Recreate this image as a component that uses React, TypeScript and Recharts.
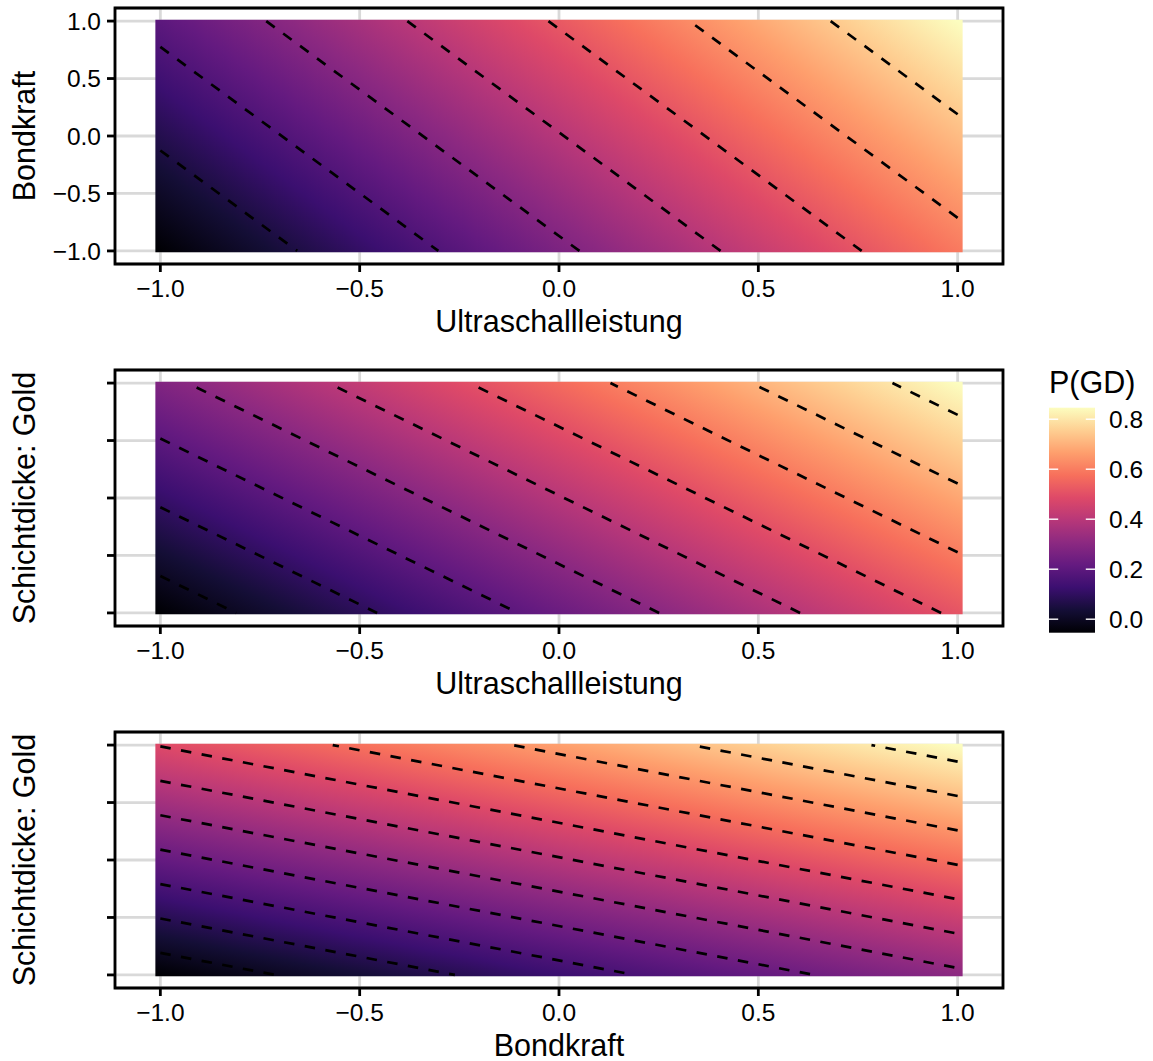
import { ComposedChart, XAxis, YAxis, CartesianGrid, ReferenceArea, ReferenceLine } from 'recharts';

const FONT = '"Liberation Sans", Arial, Helvetica, sans-serif';

const axisTicks = [-1, -0.5, 0, 0.5, 1];
const legendTicks = [0, 0.2, 0.4, 0.6, 0.8];

// predicted P(GD) at the grid corners: [x=-1,y=-1], [x=1,y=-1], [x=-1,y=1], [x=1,y=1]
const cornersUltraBond = [0.003, 0.568, 0.225, 0.79];
const cornersUltraGold = [-0.054, 0.512, 0.281, 0.846];
const cornersBondGold = [0.118, 0.34, 0.452, 0.674];

// contour breaks per panel
const levelsUltraBond = [0.1, 0.2, 0.3, 0.4, 0.5, 0.6, 0.7];
const levelsUltraGold = [0, 0.1, 0.2, 0.3, 0.4, 0.5, 0.6, 0.7, 0.8];
const levelsBondGold = [0.15, 0.2, 0.25, 0.3, 0.35, 0.4, 0.45, 0.5, 0.55, 0.6, 0.65];

const magma = ['#000004', '#140E36', '#3B0F70', '#641A80', '#8C2981', '#B73779', '#DE4968', '#F7705C', '#FE9F6D', '#FECF92', '#FCFDBF'];

const TILE = 1.0125; // raster extent (half a 0.025 tile past the grid)
const DOMAIN = 1.11375; // 5% expansion on each side

const fmt = (v: number) => (v < 0 ? '\u2212' : '') + Math.abs(v).toFixed(1);
const blank = () => '';

function plane(c: number[]) {
  const [bl, br, tl, tr] = c;
  return { a: (br - bl + tr - tl) / 4, b: (tl - bl + tr - br) / 4, m: (bl + br + tl + tr) / 4 };
}

// where a contour level crosses the border of the [-1, 1] square
function contour(c: number[], level: number) {
  const { a, b, m } = plane(c);
  const pts: { x: number; y: number }[] = [];
  const eps = 1e-9;
  const add = (x: number, y: number) => {
    if (x < -1 - eps || x > 1 + eps || y < -1 - eps || y > 1 + eps) return;
    if (pts.some((p) => Math.abs(p.x - x) < 1e-6 && Math.abs(p.y - y) < 1e-6)) return;
    pts.push({ x, y });
  };
  if (b !== 0) {
    add(-1, (level - m + a) / b);
    add(1, (level - m - a) / b);
  }
  if (a !== 0) {
    add((level - m + b) / a, -1);
    add((level - m - b) / a, 1);
  }
  return pts.length >= 2 ? [pts[0], pts[1]] : null;
}

// gradient vector in bounding-box units so isolines follow the plane
function gradientFor(c: number[]) {
  const { a, b, m } = plane(c);
  const p0 = m - a * TILE + b * TILE;
  const A = 2 * TILE * a;
  const B = -2 * TILE * b;
  const n = A * A + B * B;
  const lo = Math.min(...c);
  const hi = Math.max(...c);
  return {
    x1: (A * (lo - p0)) / n,
    y1: (B * (lo - p0)) / n,
    x2: (A * (hi - p0)) / n,
    y2: (B * (hi - p0)) / n,
  };
}

type PanelProps = {
  id: string;
  top: number;
  corners: number[];
  levels: number[];
  yLabels: boolean;
};

function Panel({ id, top, corners, levels, yLabels }: PanelProps) {
  const g = gradientFor(corners);
  const segments = levels.map((l) => contour(corners, l)).filter((s) => s !== null) as { x: number; y: number }[][];
  return (
    <div style={{ position: 'absolute', left: 0, top }}>
      <ComposedChart width={1010} height={304} margin={{ top: 8, right: 7, bottom: 0, left: 0 }}>
        <defs>
          <linearGradient id={`fill-${id}`} gradientUnits="objectBoundingBox" x1={g.x1} y1={g.y1} x2={g.x2} y2={g.y2}>
            {magma.map((col, i) => (
              <stop key={i} offset={i / (magma.length - 1)} stopColor={col} />
            ))}
          </linearGradient>
        </defs>
        <CartesianGrid stroke="#D9D9D9" strokeWidth={2.8} />
        <XAxis
          type="number"
          dataKey="x"
          domain={[-DOMAIN, DOMAIN]}
          ticks={axisTicks}
          allowDataOverflow
          tickFormatter={fmt}
          axisLine={false}
          tickSize={8}
          tickMargin={8}
          tickLine={{ stroke: '#000', strokeWidth: 2.8 }}
          tick={{ fill: '#000', fontSize: 24.5, fontFamily: FONT }}
          height={40}
        />
        <YAxis
          type="number"
          dataKey="y"
          domain={[-DOMAIN, DOMAIN]}
          ticks={axisTicks}
          allowDataOverflow
          tickFormatter={yLabels ? fmt : blank}
          axisLine={false}
          tickSize={8}
          tickMargin={6}
          tickLine={{ stroke: '#000', strokeWidth: 2.8 }}
          tick={{ fill: '#000', fontSize: 24.5, fontFamily: FONT }}
          width={115}
        />
        <ReferenceArea x1={-TILE} x2={TILE} y1={-TILE} y2={TILE} fill={`url(#fill-${id})`} fillOpacity={1} stroke="none" />
        {segments.map((s, i) => (
          <ReferenceLine
            key={i}
            segment={[s[0], s[1]]}
            stroke="#000"
            strokeWidth={2.7}
            strokeDasharray="10.5 10.5"
          />
        ))}
        <ReferenceArea
          x1={-DOMAIN}
          x2={DOMAIN}
          y1={-DOMAIN}
          y2={DOMAIN}
          fill="none"
          fillOpacity={0}
          stroke="#000"
          strokeWidth={2.8}
          ifOverflow="visible"
        />
      </ComposedChart>
    </div>
  );
}

function Overlay() {
  const lo = Math.min(...cornersUltraGold);
  const hi = Math.max(...cornersUltraGold);
  const barTop = 407.7;
  const barH = 225;
  const barX = 1049;
  const barW = 46;
  const yOf = (v: number) => barTop + barH - ((v - lo) / (hi - lo)) * barH;
  const title = { fontSize: 30.5, fontFamily: FONT, fill: '#000' };
  return (
    <svg width={1153} height={1061} style={{ position: 'absolute', left: 0, top: 0, pointerEvents: 'none' }}>
      <defs>
        <linearGradient id="legend-bar" x1={0} y1={1} x2={0} y2={0}>
          {magma.map((col, i) => (
            <stop key={i} offset={i / (magma.length - 1)} stopColor={col} />
          ))}
        </linearGradient>
      </defs>
      <text x={559} y={332} textAnchor="middle" {...title}>Ultraschallleistung</text>
      <text x={559} y={694} textAnchor="middle" {...title}>Ultraschallleistung</text>
      <text x={559} y={1056} textAnchor="middle" {...title}>Bondkraft</text>
      <text transform="translate(35,136) rotate(-90)" textAnchor="middle" {...title}>Bondkraft</text>
      <text transform="translate(35,498) rotate(-90)" textAnchor="middle" {...title}>Schichtdicke: Gold</text>
      <text transform="translate(35,860) rotate(-90)" textAnchor="middle" {...title}>Schichtdicke: Gold</text>

      <text x={1049} y={393} {...title}>P(GD)</text>
      <rect x={barX} y={barTop} width={barW} height={barH} fill="url(#legend-bar)" />
      {legendTicks.map((v) => (
        <g key={v}>
          <line x1={barX} x2={barX + 9.2} y1={yOf(v)} y2={yOf(v)} stroke="#fff" strokeWidth={1.4} />
          <line x1={barX + barW - 9.2} x2={barX + barW} y1={yOf(v)} y2={yOf(v)} stroke="#fff" strokeWidth={1.4} />
          <text x={1109} y={yOf(v) + 8.7} fontSize={24.5} fontFamily={FONT} fill="#000">
            {v.toFixed(1)}
          </text>
        </g>
      ))}
    </svg>
  );
}

export default function App() {
  return (
    <div style={{ position: 'absolute', left: 0, top: 0, width: 1153, height: 1061, background: '#fff' }}>
      <Panel id="ub" top={0} corners={cornersUltraBond} levels={levelsUltraBond} yLabels />
      <Panel id="ug" top={362} corners={cornersUltraGold} levels={levelsUltraGold} yLabels={false} />
      <Panel id="bg" top={724} corners={cornersBondGold} levels={levelsBondGold} yLabels={false} />
      <Overlay />
    </div>
  );
}
